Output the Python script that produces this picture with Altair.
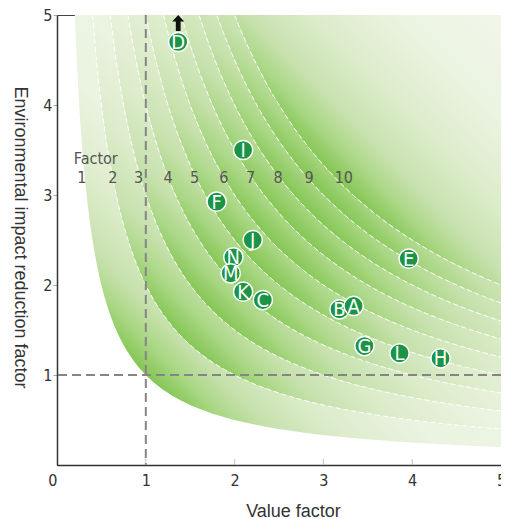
import altair as alt
import numpy as np
import pandas as pd

# ---------------- data ----------------
AX_MAX = 5
factors = [1, 2, 3, 4, 5, 6, 7, 8, 9, 10]            # iso-lines: value factor x impact factor
factor_label_x = [0.28, 0.63, 0.92, 1.25, 1.55, 1.88, 2.18, 2.49, 2.84, 3.23]
factor_label_y = 3.19
factor_title = "Factor"
factor_title_x = 0.19
factor_title_y = 3.40

pt_labels = ["D", "I", "F", "J", "N", "M", "K", "C", "B", "A", "E", "G", "L", "H"]
pt_value = [1.365, 2.096, 1.797, 2.204, 1.986, 1.956, 2.096, 2.318, 3.181, 3.34, 3.96, 3.462, 3.857, 4.319]
pt_env = [4.70, 3.50, 2.926, 2.50, 2.308, 2.13, 1.926, 1.833, 1.73, 1.767, 2.292, 1.322, 1.241, 1.186]
offchart = ["D"]
axis_ticks = [0, 1, 2, 3, 4, 5]
inner_ticks = [1, 2, 3, 4]

# ---------------- styles ----------------
FONT_N = "Liberation Sans Narrow, DejaVu Sans Condensed, Liberation Sans, sans-serif"
FONT = "Liberation Sans, Arial, sans-serif"
DARK = "#84c653"
GRAD_COLORS = [(0.0, DARK), (0.4, "#aad785"), (0.8, "#c7e1ad"), (1.5, "#dcecca"), (2.5, "#ebf3e1")]
LIGHTEST = "#f1f6ea"

# ---------------- derived tables ----------------
band_rows = []
for i, k in enumerate(factors):
    up = factors[i + 1] if i + 1 < len(factors) else None
    xs = np.geomspace(k / AX_MAX, AX_MAX, 180)
    lo = np.minimum(k / xs, AX_MAX)
    hi = np.minimum(up / xs, AX_MAX) if up else np.full_like(xs, AX_MAX)
    for a, b, c in zip(xs, lo, hi):
        band_rows.append({"band": k, "x": a, "lo": b, "hi": c})
band_df = pd.DataFrame(band_rows)

line_rows = []
for k in factors[1:]:
    xs = np.geomspace(k / AX_MAX, AX_MAX, 180)
    for a in xs:
        line_rows.append({"factor": k, "x": a, "y": k / a})
line_df = pd.DataFrame(line_rows)

label_df = pd.DataFrame({"factor": factors, "x": factor_label_x, "y": [factor_label_y] * len(factors)})
ftitle_df = pd.DataFrame({"t": [factor_title], "x": [factor_title_x], "y": [factor_title_y]})
pts_df = pd.DataFrame({"label": pt_labels, "x": pt_value, "y": pt_env})
ref_df = pd.DataFrame({"v": [1]})
tick_df = pd.DataFrame({"t": inner_ticks})


def band_gradient(k):
    s0 = 2 * k / AX_MAX
    span = 2 * AX_MAX - s0
    stops = [alt.GradientStop(color=DARK, offset=0)]
    for d, c in GRAD_COLORS:
        o = (2 * np.sqrt(k) + d - s0) / span
        if 0 < o < 1:
            stops.append(alt.GradientStop(color=c, offset=float(o)))
    stops.append(alt.GradientStop(color=LIGHTEST, offset=1))
    return alt.Gradient(gradient="linear", stops=stops, x1=0, y1=1, x2=1, y2=0)


xscale = alt.Scale(domain=[0, AX_MAX], nice=False, zero=False)
yscale = alt.Scale(domain=[0, AX_MAX], nice=False, zero=False)

x_axis = alt.Axis(
    values=axis_ticks, format="d", ticks=False, grid=False,
    labelFont=FONT_N, labelFontSize=16, labelColor="#333", labelPadding=7,
    labelFlush=False,
    labelAlign={"condition": {"test": "datum.value === 0", "value": "right"}, "value": "center"},
    title="Value factor", titleFont=FONT, titleFontSize=18, titleFontWeight="normal",
    titleColor="#333", titlePadding=14, titleX=236,
    domainColor="#333", domainWidth=1.5,
)
y_axis = alt.Axis(
    values=axis_ticks[1:], format="d", tickSize=4, tickColor="#aaa", grid=False,
    labelFont=FONT_N, labelFontSize=16, labelColor="#333", labelPadding=1,
    labelFlush=False,
    title="Environmental impact reduction factor", titleFont=FONT, titleFontSize=18,
    titleFontWeight="normal", titleColor="#333", titleAngle=90,
    titleX=-38, titleY=222, titleAlign="center", titleBaseline="middle",
    domainColor="#333", domainWidth=1.5,
)


def X(f):
    return alt.X(f, type="quantitative", scale=xscale, axis=x_axis)


def Y(f):
    return alt.Y(f, type="quantitative", scale=yscale, axis=y_axis)


layers = []
for k in factors:
    layers.append(
        alt.Chart(band_df).transform_filter(alt.datum.band == k)
        .mark_area(color=band_gradient(k))
        .encode(x=X("x"), y=Y("lo"), y2="hi")
    )

layers.append(
    alt.Chart(line_df).mark_line(color="white", strokeWidth=1, strokeDash=[5, 3])
    .encode(x=X("x"), y=Y("y"), detail="factor:N", order="x:Q")
)

layers.append(
    alt.Chart(ref_df).mark_rule(color="#858585", strokeWidth=2, strokeDash=[9, 5])
    .encode(x=X("v"))
)
layers.append(
    alt.Chart(ref_df).mark_rule(color="#858585", strokeWidth=2, strokeDash=[9, 5])
    .encode(y=Y("v"))
)

layers.append(
    alt.Chart(tick_df).mark_tick(orient="vertical", size=6, thickness=1, color="#aaa", yOffset=-3)
    .encode(x=X("t"), y=alt.datum(0))
)

layers.append(
    alt.Chart(label_df).mark_text(font=FONT_N, fontSize=16, color="#555", baseline="middle")
    .encode(x=X("x"), y=Y("y"), text="factor:N")
)
layers.append(
    alt.Chart(ftitle_df).mark_text(font=FONT_N, fontSize=16, color="#555", baseline="middle", align="left")
    .encode(x=X("x"), y=Y("y"), text="t:N")
)

layers.append(
    alt.Chart(pts_df).mark_circle(size=370, color="#1b9447", opacity=1, stroke="white", strokeWidth=1.5)
    .encode(x=X("x"), y=Y("y"))
)
layers.append(
    alt.Chart(pts_df).mark_text(font=FONT_N, fontSize=20, color="white", baseline="middle", dy=1)
    .encode(x=X("x"), y=Y("y"), text="label:N")
)
ARROW = "M0,-1L0.75,-0.2L0.3,-0.2L0.3,1L-0.3,1L-0.3,-0.2L-0.75,-0.2Z"
layers.append(
    alt.Chart(pts_df).transform_filter(alt.FieldOneOfPredicate(field="label", oneOf=offchart))
    .mark_point(shape=ARROW, filled=True, color="#111", opacity=1, size=256, yOffset=-19)
    .encode(x=X("x"), y=Y("y"))
)

chart = (
    alt.layer(*layers)
    .properties(
        width=444, height=450,
        autosize=alt.AutoSizeParams(type="none"),
        padding={"left": 49, "top": 7, "right": 0, "bottom": 56},
    )
    .configure_view(stroke="#444", strokeWidth=1)
)

chart.save("out.html", embed_options={"renderer": "svg", "actions": False})
